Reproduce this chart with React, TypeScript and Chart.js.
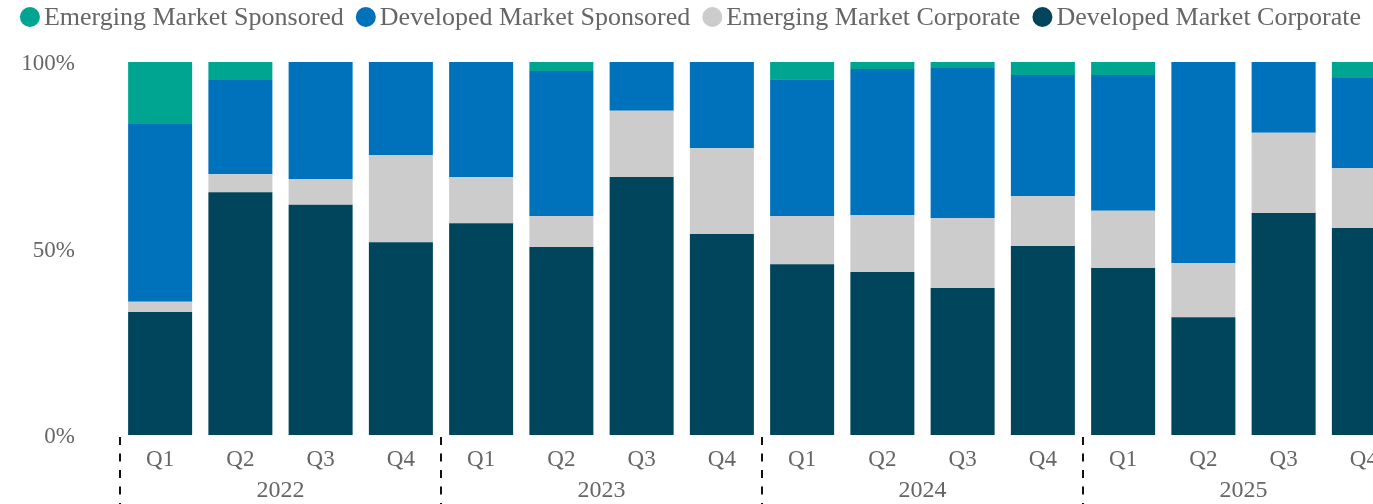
import React, { useEffect, useRef } from 'react';
import { Chart, registerables } from 'chart.js';

Chart.register(...registerables);

// ---- data ----
const quarterLabels = ['Q1', 'Q2', 'Q3', 'Q4', 'Q1', 'Q2', 'Q3', 'Q4', 'Q1', 'Q2', 'Q3', 'Q4', 'Q1', 'Q2', 'Q3', 'Q4'];
const yearLabels = ['2022', '2023', '2024', '2025'];

const developedMarketCorporate = [33.0, 65.1, 61.7, 51.7, 56.8, 50.4, 69.2, 53.9, 45.8, 43.7, 39.4, 50.7, 44.8, 31.6, 59.5, 55.5];
const emergingMarketCorporate = [2.7, 4.8, 6.9, 23.4, 12.4, 8.3, 17.7, 23.0, 12.9, 15.3, 18.8, 13.4, 15.3, 14.5, 21.5, 16.1];
const developedMarketSponsored = [47.7, 25.3, 31.4, 24.9, 30.8, 38.9, 13.1, 23.1, 36.7, 39.1, 40.2, 32.4, 36.4, 53.9, 19.0, 24.1];
const emergingMarketSponsored = [16.6, 4.8, 0, 0, 0, 2.4, 0, 0, 4.6, 1.9, 1.6, 3.5, 3.5, 0, 0, 4.3];

const seriesNames = ['Developed Market Corporate', 'Emerging Market Corporate', 'Developed Market Sponsored', 'Emerging Market Sponsored'];
const seriesColors = ['#00455C', '#CCCCCC', '#0072BC', '#00A591'];

const FONT = '"Liberation Serif", "Times New Roman", serif';
const TEXT = '#666666';

const topLegend = {
  id: 'topLegend',
  afterDraw(chart: any) {
    const ctx = chart.ctx as CanvasRenderingContext2D;
    const items = chart.data.datasets
      .map((d: any) => ({ label: d.label as string, color: d.backgroundColor as string }))
      .reverse();
    ctx.save();
    ctx.font = `26px ${FONT}`;
    const r = 10;
    const gapText = 4;
    const gapItem = 12;
    const widths = items.map((it: any) => ctx.measureText(it.label).width);
    const total = widths.reduce((a: number, w: number) => a + 2 * r + gapText + w, 0) + gapItem * (items.length - 1);
    let x = 690.5 - total / 2;
    items.forEach((it: any, i: number) => {
      ctx.fillStyle = it.color;
      ctx.beginPath();
      ctx.arc(x + r, 17, r, 0, Math.PI * 2);
      ctx.fill();
      ctx.fillStyle = TEXT;
      ctx.textAlign = 'left';
      ctx.textBaseline = 'alphabetic';
      ctx.fillText(it.label, x + 2 * r + gapText, 25);
      x += 2 * r + gapText + widths[i] + gapItem;
    });
    ctx.restore();
  },
};

export default function App() {
  const ref = useRef<HTMLCanvasElement>(null);

  useEffect(() => {
    if (!ref.current) return;
    const values = [developedMarketCorporate, emergingMarketCorporate, developedMarketSponsored, emergingMarketSponsored];
    const chart = new Chart(ref.current, {
      type: 'bar',
      data: {
        labels: quarterLabels,
        datasets: values.map((v, i) => ({
          label: seriesNames[i],
          data: v,
          backgroundColor: seriesColors[i],
          borderWidth: 0,
          barPercentage: 64 / 80.25,
          categoryPercentage: 1,
        })),
      },
      options: {
        responsive: false,
        animation: false,
        devicePixelRatio: 1,
        layout: { padding: { top: 62, left: 0, right: 0, bottom: 0 } },
        plugins: {
          legend: { display: false },
          tooltip: { enabled: false },
        },
        scales: {
          x: {
            type: 'category',
            stacked: true,
            position: 'bottom',
            weight: 0,
            offset: true,
            border: { display: false, dash: [8, 8.5], dashOffset: -2 },
            grid: {
              display: true,
              drawOnChartArea: false,
              drawTicks: true,
              tickLength: 69,
              offset: true,
              lineWidth: 2,
              tickWidth: 2,
              tickBorderDash: [8, 8.5],
              tickBorderDashOffset: -2,
              color: (c: any) => (c.index % 4 === 0 ? '#111111' : 'rgba(0,0,0,0)'),
              tickColor: (c: any) => (c.index % 4 === 0 ? '#111111' : 'rgba(0,0,0,0)'),
            },
            ticks: {
              font: { family: FONT, size: 23 },
              color: TEXT,
              padding: -58.3,
              maxRotation: 0,
              minRotation: 0,
              autoSkip: false,
            },
            afterFit: (s: any) => {
              s.height = 45;
            },
          },
          x2: {
            type: 'category',
            labels: yearLabels,
            position: 'bottom',
            weight: 1,
            offset: true,
            border: { display: false },
            grid: { display: false, drawTicks: false, drawOnChartArea: false },
            ticks: {
              font: { family: FONT, size: 24 },
              color: TEXT,
              padding: -3.4,
              maxRotation: 0,
              minRotation: 0,
              autoSkip: false,
            },
            afterFit: (s: any) => {
              s.height = 24;
            },
          },
          y: {
            stacked: true,
            min: 0,
            max: 100,
            border: { display: false },
            grid: { display: false, drawTicks: false },
            ticks: {
              stepSize: 50,
              font: { family: FONT, size: 23 },
              color: TEXT,
              padding: 45,
              labelOffset: 2,
              callback: (v: any) => `${v}%`,
            },
            afterFit: (s: any) => {
              s.width = 120;
            },
          },
        },
      },
      plugins: [topLegend],
    } as any);
    return () => chart.destroy();
  }, []);

  return (
    <div style={{ position: 'absolute', left: 0, top: 0, width: 1373, height: 504, overflow: 'hidden', background: '#ffffff' }}>
      <canvas ref={ref} width={1404} height={504} style={{ display: 'block', width: 1404, height: 504 }} />
    </div>
  );
}
